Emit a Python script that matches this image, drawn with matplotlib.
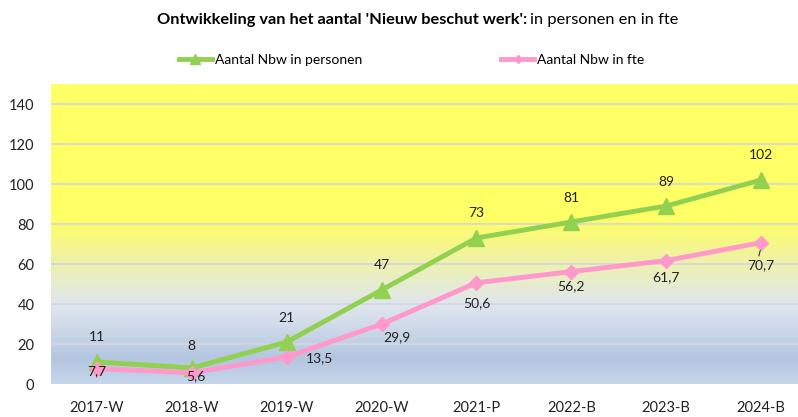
import numpy as np
import matplotlib.pyplot as plt
from matplotlib.colors import LinearSegmentedColormap

categories = ["2017-W", "2018-W", "2019-W", "2020-W", "2021-P", "2022-B", "2023-B", "2024-B"]
personen = [11, 8, 21, 47, 73, 81, 89, 102]
fte = [7.7, 5.6, 13.5, 29.9, 50.6, 56.2, 61.7, 70.7]
yticks = [0, 20, 40, 60, 80, 100, 120, 140]

# label offsets in pixels (dx, dy)
off_pers = [(0, 25), (0, 22), (0, 24), (0, 25), (0, 25), (0, 24), (0, 24), (0, 25)]
off_fte = [(0, -3), (4, -3), (33, -1), (15, -13), (0, -20), (0, -15), (0, -17), (0, -23)]

plt.rcParams['font.family'] = ['Lato', 'DejaVu Sans']

fig = plt.figure(figsize=(7.98, 4.17), dpi=100)
ax = fig.add_axes([51 / 798, 1 - 384 / 417, 747 / 798, 300 / 417])

x = np.arange(len(categories))
ax.set_xlim(-0.485, 7.39)
ax.set_ylim(0, 150)

# background gradient
stops = [(0, "#C6D6EA"), (12 / 150, "#B3C6E0"), (30 / 150, "#D2DCEA"), (40 / 150, "#DFE6EE"),
         (55 / 150, "#EAEFC0"), (70 / 150, "#F6F68A"), (82 / 150, "#FFFF66"), (1, "#FFFF66")]
cmap = LinearSegmentedColormap.from_list("bg", stops)
grad = np.linspace(0, 1, 300).reshape(-1, 1)
ax.imshow(grad, cmap=cmap, origin="lower", aspect="auto",
          extent=[-0.485, 7.39, 0, 150], zorder=0)

for t in yticks[1:]:
    ax.axhline(t, color="#D4D4E0", lw=1.2, zorder=1)

ax.plot(x, personen, color="#92D050", lw=3.5, marker="^", ms=11, zorder=3,
        label="Aantal Nbw in personen")
ax.plot(x, fte, color="#FF99CC", lw=3.5, marker="D", ms=7, zorder=3,
        label="Aantal Nbw in fte")

for i, v in enumerate(personen):
    ax.annotate(str(v), (x[i], v), xytext=off_pers[i], textcoords="offset pixels",
                ha="center", va="center", fontsize=10, color="#222222", zorder=4)
for i, v in enumerate(fte):
    lbl = f"{v:.1f}".replace(".", ",")
    ax.annotate(lbl, (x[i], v), xytext=off_fte[i], textcoords="offset pixels",
                ha="center", va="center", fontsize=10, color="#222222", zorder=4)
# small leader line for last fte label
ax.annotate("", (x[-1], fte[-1] - 2.5), xytext=(x[-1] - 0.03, fte[-1] - 8),
            arrowprops=dict(arrowstyle="-", lw=0.8, color="#333333"), zorder=4)

ax.set_xticks(x)
ax.set_xticklabels(categories, fontsize=10.5)
ax.set_yticks(yticks)
ax.set_yticklabels([str(t) for t in yticks], fontsize=10.5)
ax.tick_params(length=0, pad=12, colors="#222222")
for s in ax.spines.values():
    s.set_visible(False)

t1 = fig.text(157 / 798, 1 - 20 / 417, "Ontwikkeling van het aantal 'Nieuw beschut werk':",
              fontsize=11.8, fontweight="bold", va="center", ha="left")
fig.canvas.draw()
bb = t1.get_window_extent()
fig.text(bb.x1 / 798 + 0.004, 1 - 20 / 417, "in personen en in fte",
         fontsize=11.8, va="center", ha="left")

fig.legend(loc="center", bbox_to_anchor=(0.5157, 1 - 60 / 417), ncol=2, frameon=False,
           fontsize=10, columnspacing=10, handlelength=2.4, handletextpad=0.2,
           markerscale=0.6)

fig.savefig("out.png", dpi=100)
